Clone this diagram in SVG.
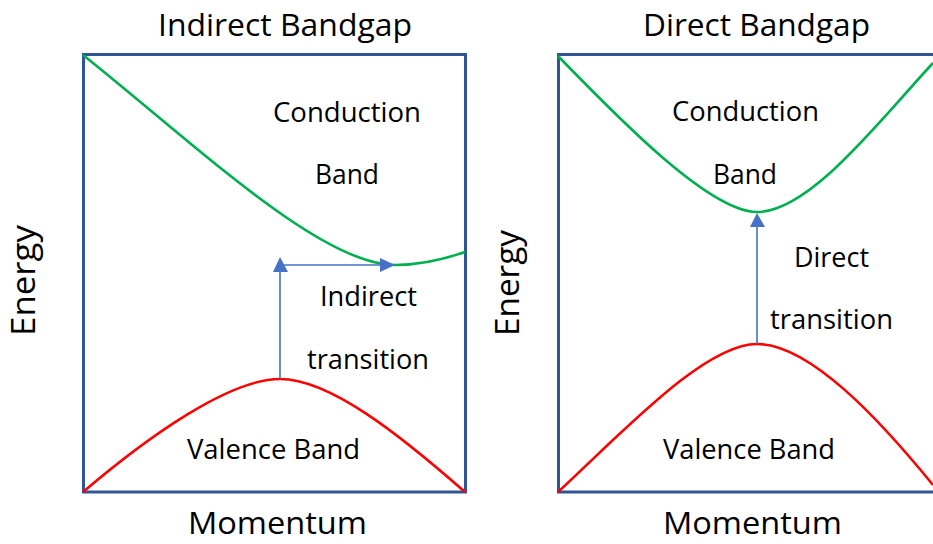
<svg xmlns="http://www.w3.org/2000/svg" width="933" height="544" viewBox="0 0 933 544">
<style>
.t{font-family:"Open Sans","Noto Sans","Liberation Sans",sans-serif;fill:#000;text-anchor:middle}
.title{font-size:31.8px}
.lbl{font-size:27.3px}
.ax{font-size:32.4px}
.mo{font-size:31px}
.box{fill:none;stroke:#2F5597;stroke-width:3}
.cb{fill:none;stroke:#00B050;stroke-width:2.6}
.vb{fill:none;stroke:#FF0000;stroke-width:2.6}
.ar{fill:none;stroke:#4472C4;stroke-width:1.6}
.ah{fill:#4472C4}
</style>
<rect width="933" height="544" fill="#fff"/>
<g id="indirect-panel">
<rect class="box" x="83.5" y="54.5" width="382" height="437.5"/>
<path id="indirect-cb" class="cb" d="M83,55 C190,140 320,265 395,265 C420,265 445,259 465,252"/>
<path id="indirect-vb" class="vb" d="M83,492 C150,435 230,379 280,379 C330,379 400,435 465,492"/>
</g>
<g id="direct-panel">
<rect class="box" x="558.5" y="54.5" width="420" height="437.5"/>
<path id="direct-cb" class="cb" d="M558,56 C620,120 710,212 757,212 C810,212 880,120 933,63"/>
<path id="direct-vb" class="vb" d="M558,492 C625,430 705,344 757,344 C810,344 880,420 933,485"/>
</g>
<g id="connectors">
<line class="ar" x1="280" y1="379" x2="280" y2="271"/>
<polygon class="ah" points="280,257 273,272 288,272"/>
<line class="ar" x1="280" y1="265" x2="382" y2="265"/>
<polygon class="ah" points="395,265 380,258 380,272"/>
<line class="ar" x1="757" y1="344" x2="757" y2="226"/>
<polygon class="ah" points="757,213 750,227 765,227"/>
</g>
<g id="labels">
<text class="t title" x="285" y="36" textLength="254" lengthAdjust="spacingAndGlyphs">Indirect Bandgap</text>
<text class="t title" x="756.5" y="36" textLength="227" lengthAdjust="spacingAndGlyphs">Direct Bandgap</text>
<text class="t lbl" x="347" y="122" textLength="148" lengthAdjust="spacingAndGlyphs">Conduction</text>
<text class="t lbl" x="347" y="184" textLength="64" lengthAdjust="spacingAndGlyphs">Band</text>
<text class="t lbl" x="745.5" y="121" textLength="147" lengthAdjust="spacingAndGlyphs">Conduction</text>
<text class="t lbl" x="745" y="184" textLength="64" lengthAdjust="spacingAndGlyphs">Band</text>
<text class="t lbl" x="368.5" y="306" textLength="97" lengthAdjust="spacingAndGlyphs">Indirect</text>
<text class="t lbl" x="368" y="369" textLength="122" lengthAdjust="spacingAndGlyphs">transition</text>
<text class="t lbl" x="831.5" y="267" textLength="75" lengthAdjust="spacingAndGlyphs">Direct</text>
<text class="t lbl" x="831.5" y="329" textLength="123" lengthAdjust="spacingAndGlyphs">transition</text>
<text class="t lbl" x="273.5" y="459" textLength="173" lengthAdjust="spacingAndGlyphs">Valence Band</text>
<text class="t lbl" x="749" y="459" textLength="172" lengthAdjust="spacingAndGlyphs">Valence Band</text>
<text class="t mo" x="277.5" y="534" textLength="179" lengthAdjust="spacingAndGlyphs">Momentum</text>
<text class="t mo" x="752.5" y="534" textLength="179" lengthAdjust="spacingAndGlyphs">Momentum</text>
<text class="t ax" transform="translate(35,280.5) rotate(-90)" textLength="111" lengthAdjust="spacingAndGlyphs">Energy</text>
<text class="t ax" transform="translate(519,283) rotate(-90)" textLength="106" lengthAdjust="spacingAndGlyphs">Energy</text>
</g>
</svg>
